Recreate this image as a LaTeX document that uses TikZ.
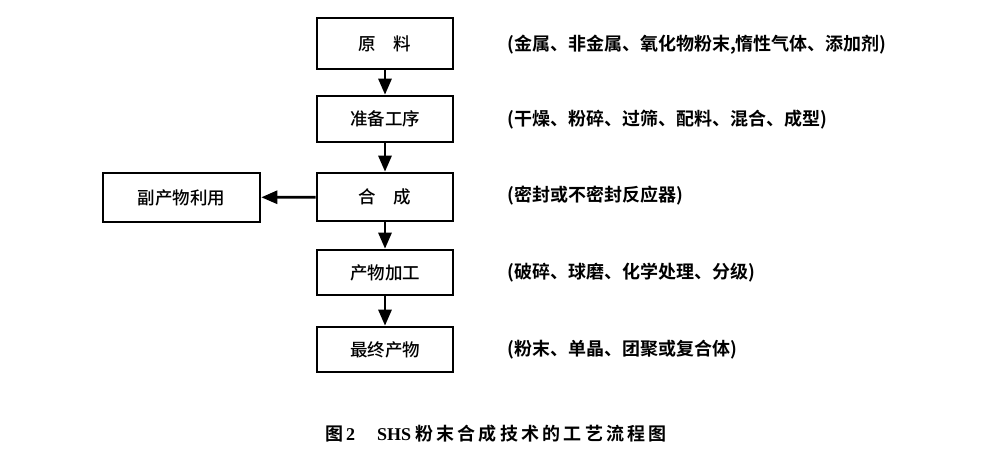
\documentclass[tikz,border=0pt]{standalone}
\usepackage{fontspec}
\usetikzlibrary{arrows.meta}
\newfontfamily\cjk{Noto Sans CJK SC Medium}
\newfontfamily\cjkb{Noto Sans CJK SC Bold}
\newfontfamily\capcjk[LetterSpace=18]{Noto Sans CJK SC Bold}
\newfontfamily\latb{Liberation Serif Bold}
\begin{document}
\begin{tikzpicture}[x=1pt,y=-1pt,
  stepbox/.style={draw=black,line width=2.6pt,minimum width=136pt,inner sep=0pt,font=\fontsize{17.5}{20}\cjk},
  note/.style={anchor=west,inner sep=0pt,font=\fontsize{18}{20}\cjkb},
  flow/.style={line width=2.8pt,-{Triangle[length=16pt,width=13pt]}}]
\useasboundingbox (0,0) rectangle (984,452);
\node[stepbox,minimum height=51pt] (b1) at (385,43.5) {原\quad 料};
\node[stepbox,minimum height=46pt] (b2) at (385,119) {准备工序};
\node[stepbox,minimum height=48pt] (b3) at (385,197) {合\quad 成};
\node[stepbox,minimum height=45pt] (b4) at (385,272.5) {产物加工};
\node[stepbox,minimum height=45pt] (b5) at (385,349.5) {最终产物};
\node[stepbox,minimum width=157pt,minimum height=49pt] (side) at (181.5,197.5) {副产物利用};
\draw[flow] (b1) -- (b2);
\draw[flow] (b2) -- (b3);
\draw[flow] (b3) -- (b4);
\draw[flow] (b4) -- (b5);
\draw[flow] (b3) -- (side);
\node[note] (n1) at (507,45) {(金属、非金属、氧化物粉末,惰性气体、添加剂)};
\node[note] (n2) at (507,120) {(干燥、粉碎、过筛、配料、混合、成型)};
\node[note] (n3) at (507,196) {(密封或不密封反应器)};
\node[note] (n4) at (507,273) {(破碎、球磨、化学处理、分级)};
\node[note] (n5) at (507,350) {(粉末、单晶、团聚或复合体)};
\node[anchor=west,inner sep=0pt,font=\fontsize{18}{20}\selectfont] (cap) at (325,434)
  {{\cjkb 图}\hspace{3pt}{\latb 2}\hspace{22pt}{\latb SHS}\hspace{4pt}{\capcjk 粉末合成技术的工艺流程图}};
\end{tikzpicture}
\end{document}
